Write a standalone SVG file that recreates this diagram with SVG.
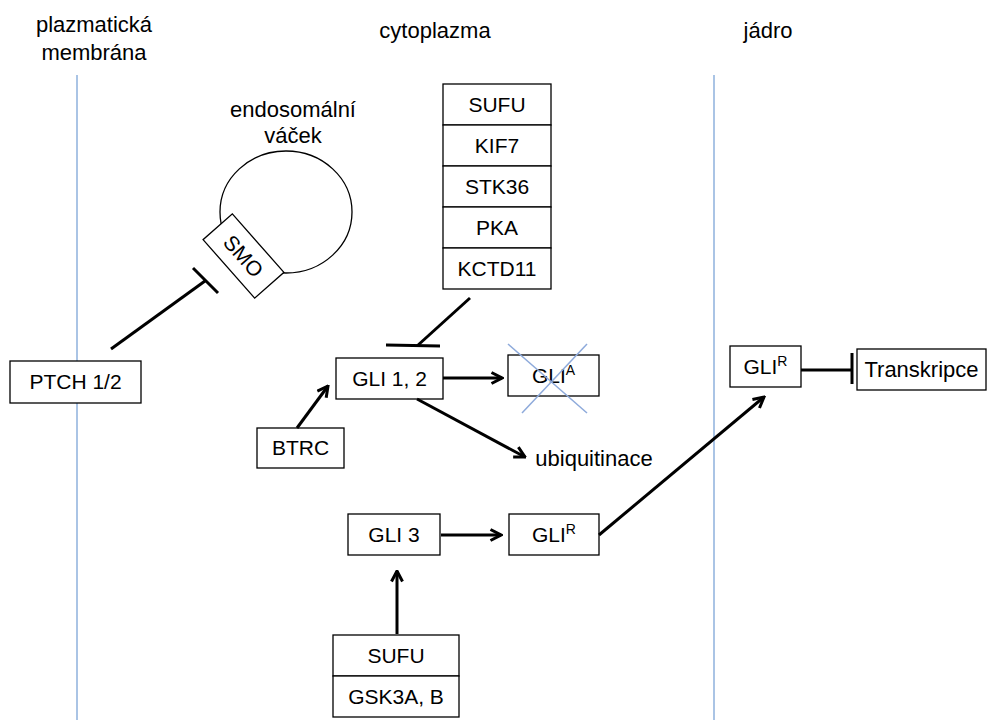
<svg xmlns="http://www.w3.org/2000/svg" width="998" height="720" viewBox="0 0 998 720">
<style>
text{font-family:"Liberation Sans",Arial,sans-serif;font-size:21px;fill:#000;text-anchor:middle}
.lc{font-size:22px}
.box{fill:#fff;stroke:#000;stroke-width:1.3}
.mem{stroke:#8eb1dc;stroke-width:1.5}
.arr{stroke:#000;stroke-width:3;fill:none;marker-end:url(#ah)}
.inh{stroke:#000;stroke-width:3;fill:none}
.sup{font-size:14px}
</style>
<defs>
<marker id="ah" viewBox="0 0 14 14" refX="12.5" refY="7" markerWidth="14" markerHeight="14" markerUnits="userSpaceOnUse" orient="auto">
<path d="M2,1.5 L12.5,7 L2,12.5" fill="none" stroke="#000" stroke-width="3"/>
</marker>
</defs>
<rect width="998" height="720" fill="#fff"/>
<g id="labels">
<text class="lc" x="94" y="32">plazmatická</text>
<text class="lc" x="94" y="60">membrána</text>
<text class="lc" x="435" y="38">cytoplazma</text>
<text class="lc" x="768" y="38">jádro</text>
<line class="mem" x1="77" y1="75" x2="77" y2="720"/>
<line class="mem" x1="714" y1="75" x2="714" y2="720"/>
</g>
<g id="vesicle">
<text class="lc" x="293" y="117">endosomální</text>
<text class="lc" x="293" y="143">váček</text>
<ellipse cx="286" cy="212" rx="66" ry="61" fill="none" stroke="#000" stroke-width="1.3"/>
</g>
<g id="smo" transform="rotate(48.6 243.5 256)">
<rect class="box" x="204.5" y="236.5" width="78" height="39"/>
<text x="243.5" y="263.5">SMO</text>
</g>
<g id="ptch">
<rect class="box" x="10" y="361" width="131" height="42"/>
<text x="75.5" y="389">PTCH 1/2</text>
</g>
<g id="complex1">
<rect class="box" x="443" y="84" width="108" height="41"/>
<rect class="box" x="443" y="125" width="108" height="41"/>
<rect class="box" x="443" y="166" width="108" height="41"/>
<rect class="box" x="443" y="207" width="108" height="41"/>
<rect class="box" x="443" y="248" width="108" height="41"/>
<text x="497" y="112">SUFU</text>
<text x="497" y="153">KIF7</text>
<text x="497" y="194">STK36</text>
<text x="497" y="235">PKA</text>
<text x="497" y="276">KCTD11</text>
</g>
<g id="gli12">
<rect class="box" x="336" y="358" width="107" height="41"/>
<text x="389.5" y="386">GLI 1, 2</text>
</g>
<g id="glia">
<rect class="box" x="508" y="355" width="91" height="41"/>
<text x="553.5" y="383">GLI<tspan class="sup" dy="-8">A</tspan></text>
<line x1="508" y1="344" x2="587" y2="413" stroke="#8eaadb" stroke-width="1.5"/>
<line x1="587" y1="344" x2="522" y2="413" stroke="#8eaadb" stroke-width="1.5"/>
</g>
<g id="btrc">
<rect class="box" x="257" y="428" width="87" height="40"/>
<text x="300.5" y="455">BTRC</text>
</g>
<g id="ubiq">
<text class="lc" x="594" y="466">ubiquitinace</text>
</g>
<g id="gli3">
<rect class="box" x="348" y="514" width="92" height="41"/>
<text x="394" y="542">GLI 3</text>
</g>
<g id="glir">
<rect class="box" x="509" y="514" width="90" height="41"/>
<text x="554" y="542">GLI<tspan class="sup" dy="-8">R</tspan></text>
</g>
<g id="complex2">
<rect class="box" x="333" y="635" width="126" height="41"/>
<rect class="box" x="333" y="676" width="126" height="41"/>
<text x="396" y="663">SUFU</text>
<text x="396" y="704">GSK3A, B</text>
</g>
<g id="glir-nucleus">
<rect class="box" x="730" y="346" width="71" height="41"/>
<text x="765.5" y="374">GLI<tspan class="sup" dy="-8">R</tspan></text>
</g>
<g id="transkripce">
<rect class="box" x="857" y="349" width="129" height="41"/>
<text class="lc" x="921.5" y="377">Transkripce</text>
</g>
<g id="connectors">
<line class="inh" x1="111" y1="349" x2="205" y2="281"/>
<line class="inh" x1="193" y1="268" x2="218" y2="293"/>
<line class="inh" x1="470" y1="298" x2="417" y2="346"/>
<line class="inh" x1="386" y1="345" x2="440" y2="346"/>
<line class="inh" x1="801" y1="370" x2="852" y2="370"/>
<line class="inh" x1="852" y1="353" x2="852" y2="384"/>
<line class="arr" x1="443" y1="378" x2="502" y2="378"/>
<line class="arr" x1="297" y1="428" x2="328" y2="386"/>
<line class="arr" x1="417" y1="399" x2="525" y2="457"/>
<line class="arr" x1="441" y1="535" x2="501" y2="535"/>
<line class="arr" x1="599" y1="535" x2="764" y2="397"/>
<line class="arr" x1="397" y1="634" x2="397" y2="571"/>
</g>
</svg>
